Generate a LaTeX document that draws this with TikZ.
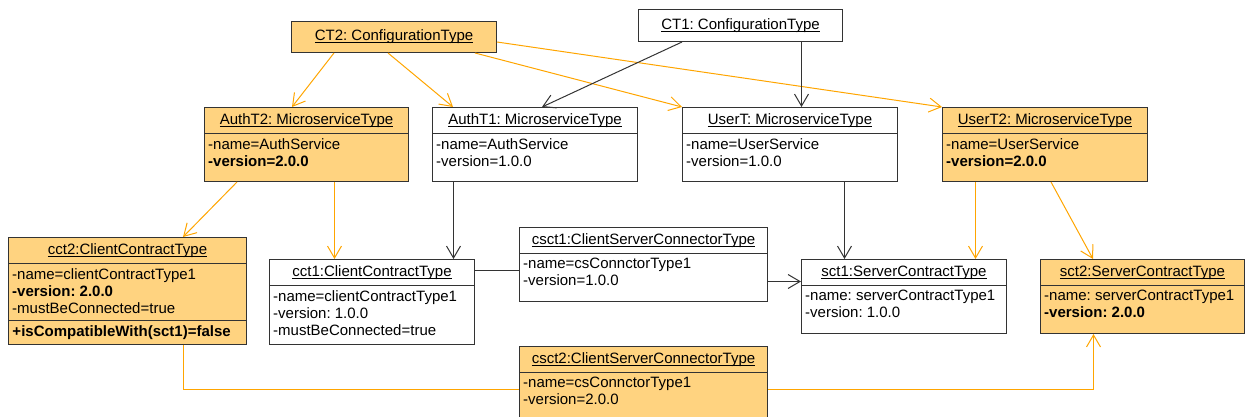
\documentclass[tikz,border=0pt]{standalone}
\usepackage{fontspec}
\setmainfont{Liberation Sans}
\usetikzlibrary{arrows.meta}
\definecolor{objorange}{RGB}{255,211,128}
\definecolor{linkorange}{RGB}{255,165,0}
\definecolor{bordergray}{RGB}{51,51,51}
\newcommand{\ulname}[1]{\sbox0{#1}\rlap{\rule[-2.2pt]{\wd0}{0.8pt}}\usebox0}
\frenchspacing

\begin{document}
\begin{tikzpicture}
[x=1pt,y=-1pt
,font=\fontsize{15}{17}\selectfont
,obj/.style={draw=bordergray,line width=1pt,anchor=north west,inner sep=0}
,objnew/.style={obj,fill=objorange}
,hd/.style={draw=bordergray,line width=1pt,anchor=north,inner sep=0,minimum height=26}
,attr/.style={anchor=north west,align=left,inner xsep=4,inner ysep=4}
,link/.style={draw=bordergray,line width=1pt,arrows={-Straight Barb[length=12pt,width=14pt]}}
,linknew/.style={link,draw=linkorange}
,assoc/.style={draw=bordergray,line width=1pt}
,assocnew/.style={assoc,draw=linkorange}
]
\useasboundingbox (0,0) rectangle (1245,417);

% configurations
\node[objnew,minimum width=205,minimum height=31] (CT2) at (291,21) {\ulname{CT2: ConfigurationType}};
\node[obj,minimum width=204,minimum height=32] (CT1) at (638,9) {\ulname{CT1: ConfigurationType}};

% microservices
\node[objnew,minimum width=204,minimum height=74] (AuthT2) at (204,107) {};
\node[hd,minimum width=204] (AuthT2h) at (AuthT2.north) {\ulname{AuthT2: MicroserviceType}};
\node[attr] (AuthT2a) at (AuthT2h.south west) {-name=AuthService\\\textbf{-version=2.0.0}};

\node[obj,minimum width=205,minimum height=74] (AuthT1) at (432,107) {};
\node[hd,minimum width=205] (AuthT1h) at (AuthT1.north) {\ulname{AuthT1: MicroserviceType}};
\node[attr] (AuthT1a) at (AuthT1h.south west) {-name=AuthService\\-version=1.0.0};

\node[obj,minimum width=215,minimum height=74] (UserT) at (682,107) {};
\node[hd,minimum width=215] (UserTh) at (UserT.north) {\ulname{UserT: MicroserviceType}};
\node[attr] (UserTa) at (UserTh.south west) {-name=UserService\\-version=1.0.0};

\node[objnew,minimum width=205,minimum height=74] (UserT2) at (942,107) {};
\node[hd,minimum width=205] (UserT2h) at (UserT2.north) {\ulname{UserT2: MicroserviceType}};
\node[attr] (UserT2a) at (UserT2h.south west) {-name=UserService\\\textbf{-version=2.0.0}};

% contracts
\node[objnew,minimum width=238,minimum height=107] (cct2) at (8,237) {};
\node[hd,minimum width=238] (cct2h) at (cct2.north) {\ulname{cct2:ClientContractType}};
\node[attr] (cct2a) at (cct2h.south west) {-name=clientContractType1\\\textbf{-version: 2.0.0}\\-mustBeConnected=true};
\node[hd,minimum width=238,minimum height=24,anchor=south,text width=230,align=left] (cct2o) at (cct2.south) {\textbf{+isCompatibleWith(sct1)=false}};

\node[obj,minimum width=205,minimum height=85] (cct1) at (269,259) {};
\node[hd,minimum width=205] (cct1h) at (cct1.north) {\ulname{cct1:ClientContractType}};
\node[attr] (cct1a) at (cct1h.south west) {-name=clientContractType1\\-version: 1.0.0\\-mustBeConnected=true};

\node[obj,minimum width=205,minimum height=74] (sct1) at (801,259) {};
\node[hd,minimum width=205] (sct1h) at (sct1.north) {\ulname{sct1:ServerContractType}};
\node[attr] (sct1a) at (sct1h.south west) {-name: serverContractType1\\-version: 1.0.0};

\node[objnew,minimum width=204,minimum height=74] (sct2) at (1040,259) {};
\node[hd,minimum width=204] (sct2h) at (sct2.north) {\ulname{sct2:ServerContractType}};
\node[attr] (sct2a) at (sct2h.south west) {-name: serverContractType1\\\textbf{-version: 2.0.0}};

% connectors
\node[obj,minimum width=248,minimum height=74] (csct1) at (519,227) {};
\node[hd,minimum width=248] (csct1h) at (csct1.north) {\ulname{csct1:ClientServerConnectorType}};
\node[attr] (csct1a) at (csct1h.south west) {-name=csConnctorType1\\-version=1.0.0};

\node[objnew,minimum width=248,minimum height=80] (csct2) at (519,346) {};
\node[hd,minimum width=248] (csct2h) at (csct2.north) {\ulname{csct2:ClientServerConnectorType}};
\node[attr] (csct2a) at (csct2h.south west) {-name=csConnctorType1\\-version=2.0.0};

\draw[linknew] (CT2.south -| 334,0) -- (AuthT2.north -| 292,0);
\draw[linknew] (CT2.south -| 388,0) -- (AuthT1.north -| 453,0);
\draw[linknew] (CT2.south -| 475,0) -- (UserT.north west);
\draw[linknew] (CT2.east |- 0,42) -- (UserT2.north west);
\draw[link] (CT1.south -| 682,0) -- (AuthT1.north -| 542,0);
\draw[link] (CT1.south -| 801.5,0) -- (UserT.north -| 801.5,0);
\draw[linknew] (AuthT2.south -| 237,0) -- (cct2.north -| 183,0);
\draw[linknew] (AuthT2.south -| 334.5,0) -- (cct1.north -| 334.5,0);
\draw[link] (AuthT1.south -| 453.5,0) -- (cct1.north -| 453.5,0);
\draw[assoc] (cct1.east |- 0,270.5) -- (csct1.west |- 0,270.5);
\draw[link] (csct1.east |- 0,281.5) -- (sct1.west |- 0,281.5);
\draw[link] (UserT.south -| 844.5,0) -- (sct1.north -| 844.5,0);
\draw[linknew] (UserT2.south -| 975.5,0) -- (sct1.north -| 975.5,0);
\draw[linknew] (UserT2.south -| 1051,0) -- (sct2.north -| 1093,0);
\draw[assocnew] (cct2.south -| 183.5,0) |- (csct2.west |- 0,389.5);
\draw[linknew] (csct2.east |- 0,389.5) -| (sct2.south -| 1093.5,0);
\end{tikzpicture}
\end{document}
